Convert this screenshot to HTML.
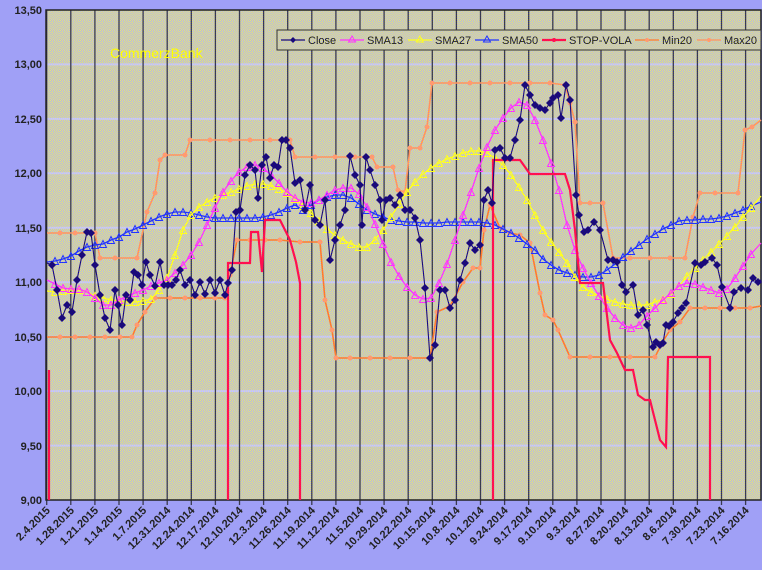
<!DOCTYPE html>
<html><head><meta charset="utf-8"><style>
html,body{margin:0;padding:0;background:#fff;}
svg{display:block;font-family:"Liberation Sans",sans-serif;}
</style></head><body>
<svg width="770" height="578" viewBox="0 0 770 578" xmlns="http://www.w3.org/2000/svg">
<defs>
<pattern id="dith" width="2" height="2" patternUnits="userSpaceOnUse">
<rect width="2" height="2" fill="#b4b4e6"/><rect width="1" height="1" fill="#e6e67a"/><rect x="1" y="1" width="1" height="1" fill="#e6e67a"/>
</pattern>
<marker id="dia" markerWidth="9" markerHeight="9" refX="4.5" refY="4.5" markerUnits="userSpaceOnUse"><path d="M4.5 0.5L8.5 4.5L4.5 8.5L0.5 4.5Z" fill="#1a0a7a"/></marker>
<marker id="trM" markerWidth="9" markerHeight="9" refX="4.5" refY="4.5" markerUnits="userSpaceOnUse"><path d="M4.5 1L8 8H1Z" fill="none" stroke="#ff33ff" stroke-width="1"/></marker>
<marker id="trY" markerWidth="9" markerHeight="9" refX="4.5" refY="4.5" markerUnits="userSpaceOnUse"><path d="M4.5 1L8 8H1Z" fill="none" stroke="#ffff20" stroke-width="1"/></marker>
<marker id="trB" markerWidth="9" markerHeight="9" refX="4.5" refY="4.5" markerUnits="userSpaceOnUse"><path d="M4.5 1L8 8H1Z" fill="none" stroke="#2233ff" stroke-width="1"/></marker>
<marker id="oc" markerWidth="7" markerHeight="7" refX="3.5" refY="3.5" markerUnits="userSpaceOnUse"><circle cx="3.5" cy="3.5" r="2.5" fill="#ff9a70"/></marker>
</defs>
<rect x="0" y="0" width="762" height="570" fill="#a0a0f6"/>
<rect x="46" y="10" width="715" height="490" fill="url(#dith)"/>
<g stroke="#c8c8f0" stroke-width="2">
<line x1="46" y1="64.4" x2="761" y2="64.4"/><line x1="46" y1="118.9" x2="761" y2="118.9"/><line x1="46" y1="173.3" x2="761" y2="173.3"/><line x1="46" y1="227.8" x2="761" y2="227.8"/><line x1="46" y1="282.2" x2="761" y2="282.2"/><line x1="46" y1="336.7" x2="761" y2="336.7"/><line x1="46" y1="391.1" x2="761" y2="391.1"/><line x1="46" y1="445.6" x2="761" y2="445.6"/>
</g>
<g stroke="#3a3a50" stroke-width="1.3" id="vg"></g>
<rect x="46" y="10" width="715" height="490" fill="none" stroke="#222" stroke-width="1.5"/>
<g font-size="11" font-weight="bold" fill="#222" text-anchor="end">
<text x="42" y="14">13,50</text><text x="42" y="68">13,00</text><text x="42" y="123">12,50</text><text x="42" y="177">12,00</text><text x="42" y="232">11,50</text><text x="42" y="286">11,00</text><text x="42" y="341">10,50</text><text x="42" y="395">10,00</text><text x="42" y="450">9,50</text><text x="42" y="504">9,00</text>
</g>
<g id="xl" font-size="11" font-weight="bold" fill="#222" text-anchor="end"></g>

<text x="110" y="58" font-size="14" fill="#ffff00">CommerzBank</text>

<!-- Min20 -->
<polyline fill="none" stroke="#ff7a30" stroke-width="1.6" marker-mid="url(#oc)" points="47,337 60,337 75,337 90,337 105,337 120,337 132,337 137,325 145,312 155,298 170,298 185,298 200,298 215,298 225,298 230,275 237,240 250,240 265,240 280,240 300,242 320,242 325,300 332,330 336,358 350,358 370,358 390,358 410,358 430,358 437,312 450,306 463,282 473,268 480,268 484,230 490,205 500,228 510,233 520,235 530,243 540,293 545,315 553,320 558,330 570,357 590,357 610,357 630,357 655,357 662,343 670,330 680,322 690,308 705,308 720,308 735,308 750,308 761,306"/>
<!-- Max20 -->
<polyline fill="none" stroke="#ff9460" stroke-width="1.6" marker-mid="url(#oc)" points="47,233 60,233 75,233 95,233 100,258 115,258 137,258 147,212 155,193 160,160 165,155 185,155 190,140 210,140 230,140 250,140 270,140 290,140 295,157 315,157 335,157 355,157 372,157 377,167 393,167 398,190 405,192 410,148 420,148 427,127 432,83 450,83 470,83 490,83 510,83 530,83 550,83 565,85 570,103 575,122 580,203 590,203 603,203 613,258 630,258 650,258 670,258 685,258 693,217 700,193 715,193 738,193 745,130 752,127 761,120"/>
<!-- SMA50 -->
<polyline fill="none" stroke="#2233ff" stroke-width="1.3" marker-mid="url(#trB)" points="47,262 55,261 63,259 71,256 79,251 87,247 95,245 103,244 111,240 119,237 127,232 135,229 143,225 151,221 159,217 167,214 175,212 183,212 191,213 199,215 207,217 215,218 223,218 231,218 239,218 247,218 255,218 263,217 271,215 279,212 287,208 295,205 303,210 311,205 319,200 327,197 335,195 343,195 351,198 359,204 367,210 375,214 383,217 391,220 399,221 407,222 415,222 423,223 431,223 439,223 447,222 455,222 463,222 471,222 479,222 487,223 495,225 503,229 511,233 519,238 527,244 535,250 543,259 551,265 559,270 567,273 575,275 583,277 591,277 599,275 607,270 615,264 623,257 631,251 639,245 647,239 655,234 663,229 671,225 679,221 687,220 695,220 703,219 711,219 719,218 727,216 735,213 743,210 751,206 761,202"/>
<!-- SMA27 -->
<polyline fill="none" stroke="#ffff20" stroke-width="1.3" marker-mid="url(#trY)" points="47,291 55,292 63,291 71,290 79,290 87,292 95,296 103,298 111,300 119,301 127,302 135,302 143,301 151,299 159,290 167,278 175,255 183,230 191,215 199,207 207,202 215,198 223,195 231,192 239,189 247,186 255,184 263,184 271,186 279,189 287,193 295,199 303,206 311,213 319,221 327,229 335,235 343,240 351,244 359,247 367,247 375,240 383,230 391,217 399,204 407,192 415,182 423,174 431,168 439,163 447,159 455,156 463,153 471,151 479,151 487,153 495,158 503,165 511,175 519,187 527,200 535,215 543,230 551,242 559,252 567,263 575,277 583,287 591,292 599,296 607,299 615,302 623,304 631,305 639,305 647,305 655,302 663,299 671,294 679,286 687,276 695,268 703,260 711,252 719,244 727,236 735,227 743,217 751,208 761,196"/>
<!-- SMA13 -->
<polyline fill="none" stroke="#ff33ff" stroke-width="1.3" marker-mid="url(#trM)" points="47,280 55,284 63,288 71,289 79,289 87,292 95,298 103,305 111,305 119,300 127,296 135,293 143,290 151,286 159,283 167,280 175,273 183,265 191,255 199,242 207,225 215,208 223,192 231,181 239,172 247,167 255,165 263,168 271,175 279,183 287,192 295,198 303,202 311,203 319,200 327,195 335,190 343,188 351,188 359,194 367,207 375,224 383,244 391,262 399,276 407,287 415,295 423,299 431,298 439,283 447,264 455,240 463,215 471,192 479,168 487,147 495,130 503,118 511,108 519,102 527,105 535,120 543,140 551,163 559,190 567,225 575,250 583,268 591,283 599,296 607,308 615,318 623,325 631,328 639,325 647,316 655,308 663,300 671,293 679,286 687,283 695,284 703,287 711,290 719,293 727,289 735,278 743,266 751,254 761,243"/>
<!-- STOP-VOLA -->
<g fill="none" stroke="#ff1050" stroke-width="2.2">
<polyline points="49,500 49,370"/>
<polyline points="228,500 228,263 250,263 251,232 258,232 262,272 265,220 280,220 290,240 296,262 300,283 300,500"/>
<polyline points="493,500 493,160 520,160 530,174 565,174 570,190 575,230 580,283 603,283 610,340 617,353 625,370 633,370 638,395 645,400 650,400 655,420 660,440 666,447 668,357 710,357 710,500"/>
</g>
<!-- Close -->
<polyline fill="none" stroke="#1a0a7a" stroke-width="1.1" marker-mid="url(#dia)" points="47,263 52,265 57,290 62,318 67,305 72,312 77,280 82,255 87,232 91,233 95,265 100,295 105,318 110,330 115,290 118,305 122,325 126,295 130,300 134,272 138,275 142,285 146,262 150,275 155,286 160,262 164,285 168,285 172,285 176,280 180,270 185,285 190,280 195,295 200,282 205,294 210,280 215,293 220,280 225,295 228,283 232,270 236,212 240,210 245,175 250,165 255,170 258,198 262,165 266,157 270,178 274,165 278,167 282,140 286,140 290,148 295,183 300,180 305,210 310,185 315,220 320,225 325,200 330,260 335,240 340,225 345,210 350,156 355,175 360,185 362,225 366,157 370,170 375,185 380,200 382,220 386,200 390,198 395,205 400,195 405,210 410,210 415,218 420,240 425,288 430,358 435,345 440,290 445,290 450,308 455,300 460,280 465,263 470,243 475,250 480,245 484,200 488,190 492,203 495,150 500,148 505,158 510,158 515,140 520,120 525,85 530,95 535,105 540,108 545,110 550,103 553,98 558,95 561,118 566,85 570,100 576,195 579,215 584,232 588,230 594,222 600,230 608,260 613,260 617,262 622,285 626,292 633,285 638,315 643,310 647,325 653,347 656,342 660,345 663,343 666,325 669,326 673,322 678,313 682,308 686,303 695,263 701,265 705,262 712,258 717,265 722,287 730,308 734,292 741,288 748,290 753,278 758,282 761,280"/>

<!-- Legend -->
<rect x="277" y="30" width="484" height="20" fill="url(#dith)" stroke="#333" stroke-width="1"/>
<g font-size="11" fill="#222">
<line x1="281" y1="40" x2="305" y2="40" stroke="#1a0a7a" stroke-width="1.3"/><path d="M293 37L296 40L293 43L290 40Z" fill="#1a0a7a"/><text x="308" y="44">Close</text>
<line x1="340" y1="40" x2="364" y2="40" stroke="#ff33ff" stroke-width="1.3"/><path d="M352 36L355.5 42H348.5Z" fill="none" stroke="#ff33ff"/><text x="367" y="44">SMA13</text>
<line x1="408" y1="40" x2="432" y2="40" stroke="#ffff20" stroke-width="1.3"/><path d="M420 36L423.5 42H416.5Z" fill="none" stroke="#ffff20"/><text x="435" y="44">SMA27</text>
<line x1="475" y1="40" x2="499" y2="40" stroke="#2233ff" stroke-width="1.3"/><path d="M487 36L490.5 42H483.5Z" fill="none" stroke="#2233ff"/><text x="502" y="44">SMA50</text>
<line x1="542" y1="40" x2="566" y2="40" stroke="#ff1050" stroke-width="2.2"/><circle cx="554" cy="40" r="2" fill="#ff1050"/><text x="569" y="44">STOP-VOLA</text>
<line x1="635" y1="40" x2="659" y2="40" stroke="#ff7a30" stroke-width="1.2"/><circle cx="647" cy="40" r="2" fill="#ff9a70"/><text x="662" y="44">Min20</text>
<line x1="697" y1="40" x2="721" y2="40" stroke="#ff9460" stroke-width="1.2"/><circle cx="709" cy="40" r="2" fill="#ff9a70"/><text x="724" y="44">Max20</text>
</g>
<script>
var vg=document.getElementById('vg'),xl=document.getElementById('xl');
var labs=["2.4.2015","1.28.2015","1.21.2015","1.14.2015","1.7.2015","12.31.2014","12.24.2014","12.17.2014","12.10.2014","12.3.2014","11.26.2014","11.19.2014","11.12.2014","11.5.2014","10.29.2014","10.22.2014","10.15.2014","10.8.2014","10.1.2014","9.24.2014","9.17.2014","9.10.2014","9.3.2014","8.27.2014","8.20.2014","8.13.2014","8.6.2014","7.30.2014","7.23.2014","7.16.2014"];
var ns="http://www.w3.org/2000/svg";
for(var i=0;i<30;i++){var x=46.7+i*24.1;
var l=document.createElementNS(ns,'line');l.setAttribute('x1',x);l.setAttribute('x2',x);l.setAttribute('y1',10);l.setAttribute('y2',505);vg.appendChild(l);
var t=document.createElementNS(ns,'text');t.setAttribute('transform','translate('+(x+4)+',511) rotate(-45)');t.textContent=labs[i];xl.appendChild(t);}
</script>
</svg>
</body></html>
